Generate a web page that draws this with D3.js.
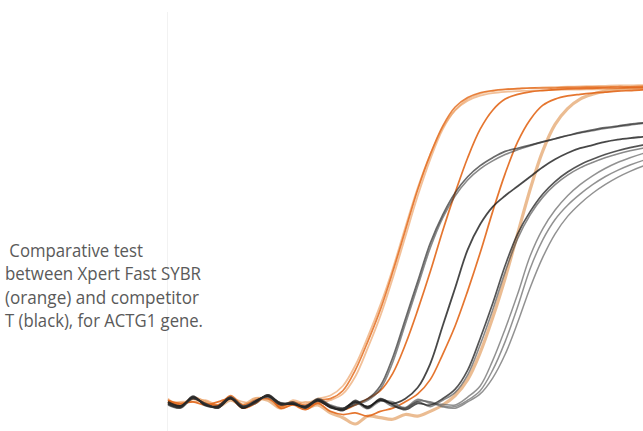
<!DOCTYPE html>
<head>
	<meta charset="utf-8">
	<style>
		html, body { margin: 0; padding: 0; background: #fff; }
		svg { display: block; }
		.note { font-family: "Open Sans", sans-serif; fill: #5a5a5a; white-space: pre; }
	</style>
	<script src="https://cdn.jsdelivr.net/npm/d3@7/dist/d3.min.js"></script>
</head>
<body>
	<svg width="643" height="431"></svg>
	<script type="text/javascript">
		// caption lines and their measured widths
		var caption = [" Comparative test", "between Xpert Fast SYBR", "(orange) and competitor", "T (black), for ACTG1 gene."];
		var captionWidths = [138, 196, 194, 198];

		// cycle numbers 1..40
		var cycles = [1,2,3,4,5,6,7,8,9,10,11,12,13,14,15,16,17,18,19,20,21,22,23,24,25,26,27,28,29,30,31,32,33,34,35,36,37,38,39,40];

		// Xpert Fast SYBR (orange) - relative fluorescence per cycle
		var orange1a = [1.5,0,2,0.5,-0.5,3,0,1.5,2.5,-0.5,1,0,1.5,2,4.5,11,20,30,42,55,68,79,88,94,97,98.5,99.2,99.6,99.8,100,100,100,100.2,100.2,100.3,100.3,100.4,100.4,100.5,100.5];
		var orange1b = [0.5,1,1,1.5,0,2,1,0.5,3,0,0,1,0.5,1.5,3.5,9,18,28,40,53,66,77.5,87,93,96.5,98.2,99,99.5,99.8,100,100.2,100.3,100.4,100.5,100.6,100.7,100.8,100.8,100.9,101];
		var orange1c = [2,-0.5,2.5,1,-1,2.5,-0.5,2,2,-1,1.5,0.5,2,3,6,12.5,21.5,31.5,43,56,68.5,79,87.5,93,96,97.6,98.4,98.8,99,99.2,99.3,99.4,99.5,99.5,99.6,99.6,99.7,99.7,99.8,99.8];
		var orange2 = [1,-0.5,2,0.5,0,2.5,-1,1.5,2,0,0.5,-1,1,-0.5,-1.5,0,2,4.5,10,19,30,42,55,67,78,87,93,96.5,98,98.8,99.2,99.5,99.7,99.8,99.9,100,100,100.1,100.1,100.2];
		var orange3 = [1.5,0.5,1,0,1,2,-1,0.5,3,-1,0,-1.5,0.5,-2,-3,-2.5,-3.5,-2,-1,1,3.5,8,16,25,36,48,61,73,83,90,94.5,96.5,97.5,98,98.4,98.7,99,99.2,99.4,99.5];
		var orange4 = [1,0,2,1,-0.5,1.5,0,2,1.5,-1,0.5,-1,0,-2.5,-4,-6,-3.5,-4,-4.5,-3,-3.5,-2,0,3,8,16.5,27.5,40,54,68,80,88.5,93.5,96.5,98,99,99.5,99.8,100,100];

		// competitor T (black)
		var black1a = [0.5,-0.6,2.5,0,-0.6,2.2,-0.6,1,3,0.5,0.6,-0.6,1.6,-0.5,-1.5,0.5,2,6,15,27,39,51,60,67,72,75.5,78,80,81,82,83,84,85,86,86.8,87.5,88,88.6,89,89.3];
		var black1b = [0,-1,2,0.5,-1,2.5,-0.3,0.5,3.2,0,1,-1,2,0,-1,0,1.5,5,13.5,25.5,37.5,49.5,59,66,71,74.5,77,79,80.5,81.8,83,84,85,85.8,86.5,87.2,87.8,88.3,88.8,89.2];
		var black2 = [1,-0.3,2.2,0.3,-0.8,2,-1,1.2,2.8,0.2,0.4,-0.8,1.4,-0.8,-1.2,1,-0.5,1.5,0.5,2,5.5,13,25,37,49,57,62.5,66,69,72,75,77.5,79.5,81,82,83,83.7,84.2,84.6,85];
		var black3a = [0.3,-0.8,2.8,-0.2,-0.3,2.4,-0.8,0.8,3.2,0.6,0.3,-0.4,1.8,-0.3,-1.8,1.5,-1,2,0,-1.5,0.5,0,2,5,11,21,32,44,54,61,66.5,70.5,73.5,75.8,77.5,79,80.2,81.2,82,82.6];
		var black3b = [0.6,-0.4,2.3,0.2,-0.9,2,-0.4,1.2,2.7,0.3,0.8,-0.8,1.3,-0.6,-1.3,0.8,-0.5,1.5,-0.5,-1,1,-0.5,1.5,4,9.5,19,30,42,52.5,60,65.5,69.5,72.5,74.8,76.5,78,79.2,80.2,81,81.6];
		var black4a = [0.8,-0.5,2.2,0.2,-0.4,2.5,-0.4,1.2,2.6,0.8,0.2,-0.3,1.5,-0.2,-1.2,1.2,-0.8,1.8,0.5,-0.8,1.8,0.5,0.2,0,2.5,6,14,24,35,47,55.5,61.5,66,69.5,72.3,74.6,76.5,78,79.3,80.4];
		var black4b = [0.2,-0.9,2.6,-0.1,-0.7,2.1,-0.9,0.9,3,0.4,0.7,-0.5,1.2,-0.7,-1.6,0.7,-1.2,1.2,1,-1.2,1.2,1,-0.3,-0.5,1.5,4.5,11,20,31,43,52,58.5,63,66.5,69.5,72,74,75.7,77.1,78.2];
		var black4c = [0.6,-0.2,2,0.4,-1,2.3,-0.6,1.4,2.4,0.1,0.5,-0.9,1.7,-0.4,-1,1,-0.6,1.6,0.2,-1,1.5,0.8,-0.6,-1,1,3.5,8.5,16,26,37,46.5,54,59.5,63.5,66.8,69.5,71.8,73.7,75.3,76.6];

		var svg = d3.select("svg"),
			width = +svg.attr("width"),
			height = +svg.attr("height");

		var x = d3.scaleLinear().domain([1, 40]).range([168, 655]);
		var y = d3.scaleLinear().domain([0, 100]).range([405, 88]);

		var line = d3.line()
			.x(function(d, i){ return x(cycles[i]); })
			.y(function(d){ return y(d); })
			.curve(d3.curveCatmullRom.alpha(0.5));

		var defs = svg.append("defs");
		defs.append("filter").attr("id", "soft").append("feGaussianBlur").attr("stdDeviation", 0.45);

		// faint panel edge
		svg.append("line").attr("x1", 167.5).attr("x2", 167.5).attr("y1", 12).attr("y2", height)
			.attr("stroke", "#f2f2f2").attr("stroke-width", 1);

		var series = [
			{v: orange4, c: "#e9b586", w: 3.2, o: 0.9},
			{v: orange1b, c: "#eca56c", w: 1.8, o: 0.7},
			{v: orange1c, c: "#eca56c", w: 1.8, o: 0.7},
			{v: orange1a, c: "#e46f22", w: 1.7, o: 0.85},
			{v: orange2, c: "#e2661a", w: 1.7, o: 0.9},
			{v: orange3, c: "#e2661a", w: 1.7, o: 0.9},
			{v: black4c, c: "#6e6e6e", w: 1.5, o: 0.75},
			{v: black4b, c: "#6e6e6e", w: 1.5, o: 0.75},
			{v: black4a, c: "#6e6e6e", w: 1.5, o: 0.75},
			{v: black3b, c: "#3a3a3a", w: 1.6, o: 0.6},
			{v: black3a, c: "#1e1e1e", w: 1.7, o: 0.75},
			{v: black2, c: "#1a1a1a", w: 1.8, o: 0.8},
			{v: black1b, c: "#3a3a3a", w: 1.6, o: 0.6},
			{v: black1a, c: "#2a2a2a", w: 1.7, o: 0.7}
		];

		svg.append("g").attr("filter", "url(#soft)").selectAll("path").data(series).enter().append("path")
			.attr("d", function(d){ return line(d.v); })
			.attr("fill", "none")
			.attr("stroke", function(d){ return d.c; })
			.attr("stroke-width", function(d){ return d.w; })
			.attr("stroke-opacity", function(d){ return d.o; })
			.attr("stroke-linejoin", "round");

		svg.append("g").selectAll("text").data(caption).enter().append("text")
			.attr("class", "note")
			.attr("font-size", 18)
			.attr("x", 5)
			.attr("y", function(d, i){ return 257 + i * 23.4; })
			.attr("textLength", function(d, i){ return captionWidths[i]; })
			.attr("lengthAdjust", "spacingAndGlyphs")
			.text(function(d){ return d; });
	</script>
</body>
